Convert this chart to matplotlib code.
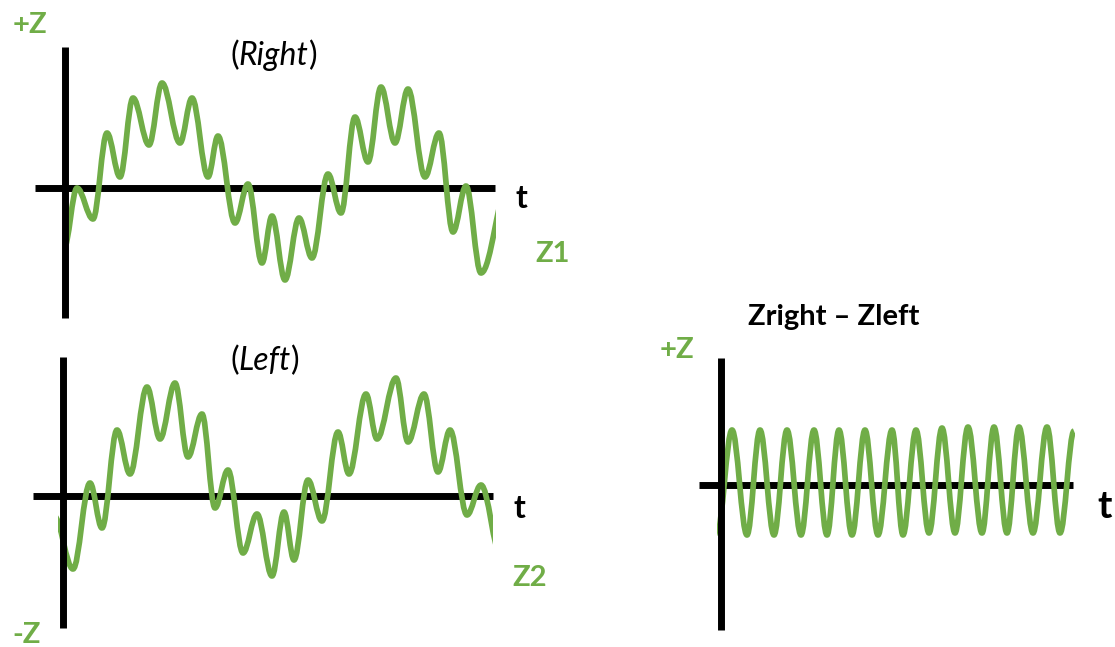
import matplotlib
matplotlib.use("Agg")
import matplotlib.pyplot as plt
from matplotlib.path import Path
from matplotlib.patches import PathPatch, Rectangle

GREEN = "#70AD47"
FONT = ["Lato", "DejaVu Sans"]

# turning points (t, z) of each trace
z1_t = [-1, 12, 28, 42, 55, 68, 84, 97, 115, 127, 143, 153, 170, 183, 197,
        207, 220, 234, 247, 263, 276, 290, 303, 316, 330, 343, 360, 374,
        388, 401, 416, 444]
z1_z = [-60, 0, -31, 55, 11, 90, 43, 105, 45, 90, 11, 52, -35, 4, -75,
        -28, -92, -30, -70, 14, -25, 71, 26, 101, 45, 99, 11, 55,
        -44, 2, -85, 5]
z1_span = (4, 431)

z2_t = [-9, 10, 27, 39, 54, 67, 84, 97, 112, 125, 139, 152, 165, 180, 194,
        209, 221, 231, 245, 259, 275, 286, 303, 314, 333, 345, 361, 375,
        387, 404, 418, 438]
z2_z = [-20, -73, 13, -32, 66, 22, 109, 57, 113, 39, 82, -12, 26, -57, -18,
        -80, -16, -64, 16, -25, 64, 22, 102, 57, 118, 54, 102, 24,
        66, -19, 11, -60]
z2_span = (-5, 430)

diff_t = [-4, 11, 26, 39, 53, 66, 80, 93, 106, 118, 131, 144, 157, 171,
          182, 195, 208, 221, 234, 247, 261, 273, 286, 298, 312, 326, 339, 353]
diff_z = [-48, 55, -50, 55, -50, 55, -50, 55, -50, 55, -50, 55, -50, 55,
          -50, 55, -48, 57, -48, 58, -48, 58, -48, 58, -48, 58, -48, 54]
diff_span = (-4, 354)

K = 0.3634  # bezier handle so each half wave looks like a cosine


def wave_path(t, z):
    verts = [(t[0], z[0])]
    codes = [Path.MOVETO]
    for i in range(1, len(t)):
        dt = t[i] - t[i - 1]
        verts += [(t[i - 1] + K * dt, z[i - 1]), (t[i] - K * dt, z[i]),
                  (t[i], z[i])]
        codes += [Path.CURVE4] * 3
    return Path(verts, codes)


def make_panel(fig, box, xlim, ylim):
    # box in pixels: left, top, right, bottom
    W, H = 1115, 647
    l, t, r, b = box
    ax = fig.add_axes([l / W, 1 - b / H, (r - l) / W, (b - t) / H])
    ax.set_xlim(*xlim)
    ax.set_ylim(*ylim)
    ax.axis("off")
    ax.axhline(0, color="black", lw=5, solid_capstyle="butt", zorder=1,
               clip_on=False)
    ax.axvline(0, color="black", lw=5, solid_capstyle="butt", zorder=3,
               clip_on=False)
    return ax


def draw_wave(ax, t, z, span):
    patch = PathPatch(wave_path(t, z), fill=False, edgecolor=GREEN, lw=4.1,
                      capstyle="butt", joinstyle="round", zorder=2)
    ax.add_patch(patch)
    y0, y1 = ax.get_ylim()
    clip = Rectangle((span[0], y0), span[1] - span[0], y1 - y0,
                     transform=ax.transData)
    patch.set_clip_path(clip)


def label(ax, x, y, s, color="black", size=21, weight="bold"):
    ax.text(x, y, s, color=color, fontsize=size, fontweight=weight,
            ha="center", va="baseline", family=FONT)


def paren_title(ax, x, y, word, size=23):
    first = ax.text(x, y, "(", fontsize=size, ha="left", va="baseline",
                    family=FONT)
    mid = ax.annotate(word, xy=(1, 0), xycoords=first, fontsize=size,
                      style="italic", ha="left", va="bottom", family=FONT)
    ax.annotate(")", xy=(1, 0), xycoords=mid, fontsize=size, ha="left",
                va="bottom", family=FONT)


fig = plt.figure(figsize=(11.15, 6.47), dpi=100)

top = make_panel(fig, (35, 47, 495, 318), (-30, 430), (-130, 141))
draw_wave(top, z1_t, z1_z, z1_span)
label(top, -35, 155, "+Z", GREEN)
paren_title(top, 165, 123, "Right")
label(top, 456, -20, "t", size=23)
label(top, 488, -74, "Z1", GREEN)

bottom = make_panel(fig, (33, 357, 493, 628), (-30, 430), (-132, 139))
draw_wave(bottom, z2_t, z2_z, z2_span)
paren_title(bottom, 167, 126, "Left")
label(bottom, 456, -22, "t", size=23)
label(bottom, 467, -90, "Z2", GREEN)
label(bottom, -36, -147, "-Z", GREEN)

right = make_panel(fig, (699, 358, 1073, 630), (-22, 352), (-145, 127))
draw_wave(right, diff_t, diff_z, diff_span)
label(right, 113, 160, "Zright \u2013 Zleft")
label(right, -44, 127, "+Z", GREEN)
label(right, 384, -33, "t", size=28)

fig.savefig("out.png", dpi=100, facecolor="white")
